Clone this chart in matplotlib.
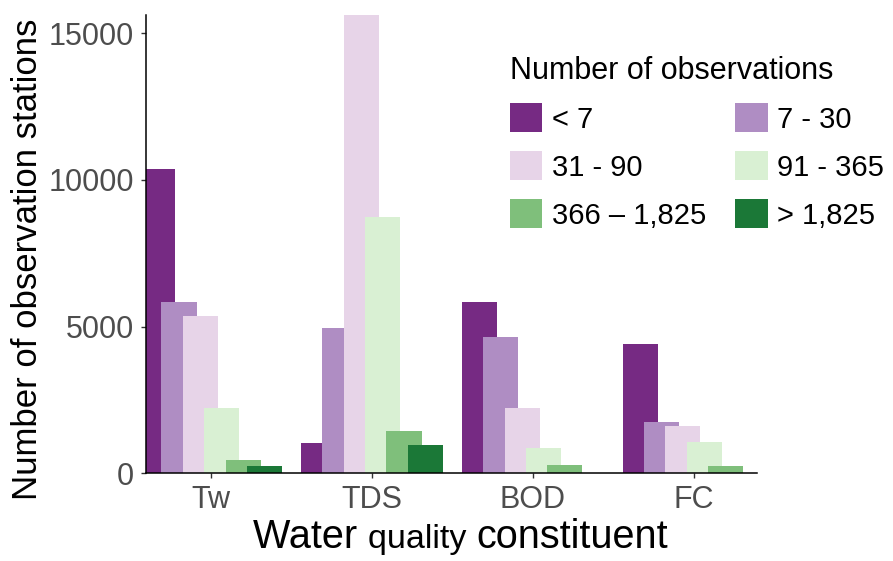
import numpy as np
import matplotlib
matplotlib.use("Agg")
from matplotlib import pyplot as plt
from matplotlib import font_manager
from matplotlib.patches import Patch

# station counts per constituent, split by number of observations
constituents = ["Tw", "TDS", "BOD", "FC"]
obs_classes = ["< 7", "7 - 30", "31 - 90", "91 - 365", "366 \u2013 1,825", "> 1,825"]
lt_7 = [10380, 1020, 5840, 4420]
n_7_30 = [5840, 4950, 4640, 1750]
n_31_90 = [5360, 15700, 2220, 1610]
n_91_365 = [2230, 8740, 860, 1070]
n_366_1825 = [450, 1430, 290, 250]
gt_1825 = [250, 960, 0, 0]
counts = [lt_7, n_7_30, n_31_90, n_91_365, n_366_1825, gt_1825]
y_ticks = [0, 5000, 10000, 15000]

colors = ["#762a83", "#af8dc3", "#e7d4e8", "#d9f0d3", "#7fbf7b", "#1b7837"]


def pick_font(names):
    for n in names:
        try:
            font_manager.findfont(n, fallback_to_default=False)
            return n
        except ValueError:
            pass
    return "DejaVu Sans"


regular = pick_font(["Liberation Sans", "Arial"])
plt.rcParams["font.family"] = [regular, "DejaVu Sans"]

W, H = 893, 561
fig = plt.figure(figsize=(W / 100, H / 100), dpi=100)
ax = fig.add_axes([146 / W, 1 - 473.3 / H, (757 - 146) / W, (473.3 - 15) / H])

x = np.arange(1, len(constituents) + 1)
step = 0.133
width = 0.218
for i, vals in enumerate(counts):
    ax.bar(x + (i - 2.5) * step, vals, width=width, color=colors[i], linewidth=0)

ax.set_xlim(0.5955, 4.394)
ax.set_ylim(0, 15625)
ax.set_xticks(x)
ax.set_xticklabels(constituents)
ax.set_yticks(y_ticks)
ax.set_yticklabels([str(v) for v in y_ticks])

for s in ["top", "right"]:
    ax.spines[s].set_visible(False)
for s in ["left", "bottom"]:
    ax.spines[s].set_linewidth(1.1)
    ax.spines[s].set_color("black")

ax.tick_params(axis="both", length=3.5, width=1.0, color="#333333",
               labelcolor="#4d4d4d", labelsize=22, pad=5)

# y axis title
fig.text(28 / W, 1 - 259 / H, "Number of observation stations", rotation=90,
         ha="center", va="center", fontsize=25, color="black")

# x axis title with a smaller middle word
renderer = fig.canvas.get_renderer()
xpos = 253 / W
ybase = 1 - 548 / H
parts = [("Water ", 28.5), ("quality ", 24.5), ("constituent", 28.5)]
for txt, size in parts:
    t = fig.text(xpos, ybase, txt, fontsize=size, ha="left", va="baseline", color="black")
    bb = t.get_window_extent(renderer=renderer)
    xpos += bb.width / W

# legend, filled row by row
handles = [Patch(facecolor=c, edgecolor="none") for c in colors]
order = [0, 2, 4, 1, 3, 5]
leg = fig.legend([handles[k] for k in order], [obs_classes[k] for k in order],
                 ncol=2, loc="upper left", bbox_to_anchor=(510 / W, 1 - 56 / H),
                 frameon=False, fontsize=21, title="Number of observations",
                 title_fontsize=22, alignment="left", handlelength=1.1,
                 handleheight=1.15, handletextpad=0.34, labelspacing=0.6,
                 columnspacing=1.0, borderpad=0, borderaxespad=0)

fig.savefig("out.png", dpi=100)
